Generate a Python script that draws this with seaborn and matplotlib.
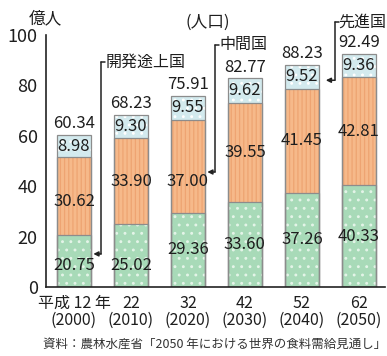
import numpy as np
import pandas as pd
import matplotlib.pyplot as plt
import seaborn as sns
from matplotlib.patches import Rectangle

# data (億人)
years = ['平成 12 年\n(2000)', '22\n(2010)', '32\n(2020)', '42\n(2030)', '52\n(2040)', '62\n(2050)']
developing = [20.75, 25.02, 29.36, 33.60, 37.26, 40.33]
middle = [30.62, 33.90, 37.00, 39.55, 41.45, 42.81]
advanced = [8.98, 9.30, 9.55, 9.62, 9.52, 9.36]
totals = [60.34, 68.23, 75.91, 82.77, 88.23, 92.49]

sns.set_style('white')
plt.rcParams['font.family'] = ['Noto Sans CJK JP', 'DejaVu Sans']
plt.rcParams['hatch.linewidth'] = 0.9

df = pd.DataFrame({'year': years, 'dev': developing, 'mid': middle, 'adv': advanced})
df['c2'] = df['dev'] + df['mid']
df['c3'] = df['c2'] + df['adv']

fig = plt.figure(figsize=(3.87, 3.56), dpi=100)
ax = fig.add_axes([0.119, 0.194, 0.876, 0.708])

# back to front: blue (top), orange, green
layers = [('c3', '#d3eaee', '#ffffff', '..'),
          ('c2', '#f6b98a', '#eea472', '||||'),
          ('dev', '#a8dab8', '#e4f4e8', '..')]
for col, fc, hc, hatch in layers:
    n0 = len(ax.patches)
    sns.barplot(data=df, x='year', y=col, color=fc, width=0.6, saturation=1, ax=ax)
    for p in ax.patches[n0:]:
        p.set_facecolor(fc)
        p.set_edgecolor(hc)
        p.set_hatch(hatch)
        p.set_linewidth(0)

# gray outlines
for p in list(ax.patches):
    ax.add_patch(Rectangle(p.get_xy(), p.get_width(), p.get_height(),
                           fill=False, edgecolor='#8c8c8c', linewidth=0.9))

fs = 12
tc = '#1e1e1e'
for i in range(len(years)):
    d, m, a, t = developing[i], middle[i], advanced[i], totals[i]
    gy = d / 2 if i >= 2 else 8.7
    my = d + m / 2 - (6 if i == 2 else 0)
    if i == 0:
        my -= 2
    ax.text(i, gy, f'{d:.2f}', ha='center', va='center', fontsize=fs, color=tc)
    ax.text(i, my, f'{m:.2f}', ha='center', va='center', fontsize=fs, color=tc)
    ax.text(i, d + m + a / 2, f'{a:.2f}', ha='center', va='center', fontsize=fs, color=tc)
    ax.text(i, d + m + a + 1.0, f'{t:.2f}', ha='center', va='bottom', fontsize=fs, color=tc)

ax.set_xlim(-0.49, 5.46)
ax.set_ylim(0, 100)
ax.set_yticks([0, 20, 40, 60, 80, 100])
ax.set_xlabel('')
ax.set_ylabel('')
sns.despine(ax=ax)
for s in ['left', 'bottom']:
    ax.spines[s].set_color('#222222')
    ax.spines[s].set_linewidth(1.2)
ax.tick_params(axis='y', direction='inout', length=8, width=1.2, labelsize=13,
               color='#222222', pad=2, labelcolor=tc)
ax.tick_params(axis='x', length=0, labelsize=11.5, pad=6, labelcolor=tc)
for lab in ax.get_xticklabels():
    lab.set_linespacing(0.95)

# brackets
lc = '#222222'
def bracket(x_line, y_top, y_bot, x_tip, label, x_text):
    ax.plot([x_line, x_line + 0.07], [y_top, y_top], color=lc, lw=1.1, clip_on=False)
    ax.plot([x_line, x_line], [y_top, y_bot], color=lc, lw=1.1, clip_on=False)
    ax.annotate('', xy=(x_tip, y_bot), xytext=(x_line, y_bot),
                arrowprops=dict(arrowstyle='-|>', color=lc, lw=1.1, mutation_scale=7,
                                shrinkA=0, shrinkB=0), annotation_clip=False)
    ax.text(x_text, y_top, label, ha='left', va='center', fontsize=11.5, color=tc,
            clip_on=False)

bracket(0.475, 89.3, 13.1, 0.34, '開発途上国', 0.55)
bracket(2.475, 96.0, 45.6, 2.34, '中間国', 2.55)
bracket(4.58, 105.0, 82.0, 4.42, '先進国', 4.64)

ax.text(2.35, 105, '(人口)', ha='center', va='center', fontsize=12, color=tc, clip_on=False)
fig.text(45 / 387, 1 - 19 / 356, '億人', ha='center', va='center', fontsize=12, color=tc)
fig.text(215 / 387, 1 - 344 / 356,
         '資料：農林水産省「2050 年における世界の食料需給見通し」',
         ha='center', va='center', fontsize=9, color='#333333')

fig.savefig('out.png', dpi=100)
